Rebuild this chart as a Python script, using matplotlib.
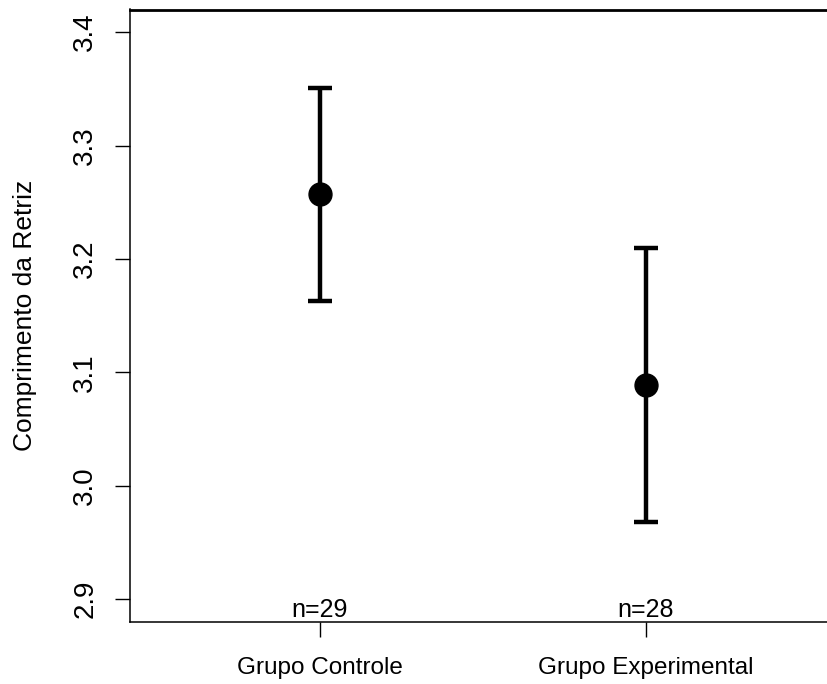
import matplotlib

matplotlib.use("Agg")
import matplotlib.pyplot as plt  # noqa: E402
import numpy as np  # noqa: E402

plt.rcParams["font.family"] = ["Liberation Sans", "DejaVu Sans"]

# Médias e intervalos de confiança por grupo
grupos = ["Grupo Controle", "Grupo Experimental"]
medias = [3.257, 3.089]
ic_inf = [3.163, 2.968]
ic_sup = [3.351, 3.210]
n_obs = [29, 28]
yticks = [2.9, 3.0, 3.1, 3.2, 3.3, 3.4]

x = np.arange(1, len(grupos) + 1)
medias = np.array(medias)
err = [medias - np.array(ic_inf), np.array(ic_sup) - medias]

fig = plt.figure(figsize=(8.27, 6.84), dpi=100)
ax = fig.add_axes([130 / 827, 62.3 / 684, 705.5 / 827, 612.2 / 684])

ax.errorbar(
    x, medias, yerr=err, fmt="o", color="black", ecolor="black",
    markersize=16.5, elinewidth=3.2, capsize=8.3, capthick=3.2,
)
for xi, n in zip(x, n_obs):
    ax.annotate(
        f"n={n}", xy=(xi, 0), xycoords=("data", "axes fraction"),
        xytext=(0, 3.4), textcoords="offset points",
        ha="center", va="baseline", fontsize=18,
    )

ax.set_xlim(0.418, 2.582)
ax.set_ylim(2.88, 3.42)
ax.set_xticks(x)
ax.set_xticklabels(grupos, fontsize=17.5)
ax.set_yticks(yticks)
ax.set_yticklabels([f"{v:.1f}" for v in yticks], fontsize=20, rotation=90, va="center")
ax.tick_params(axis="x", length=10.5, width=1, pad=15)
ax.tick_params(axis="y", length=10.8, width=1, pad=12)
for s in ax.spines.values():
    s.set_linewidth(1.1)
ax.spines["top"].set_linewidth(2)

fig.text(25 / 827, 1 - 315 / 684, "Comprimento da Retriz", rotation=90,
         ha="center", va="center", fontsize=19)

fig.savefig("out.png", dpi=100, facecolor="white")
